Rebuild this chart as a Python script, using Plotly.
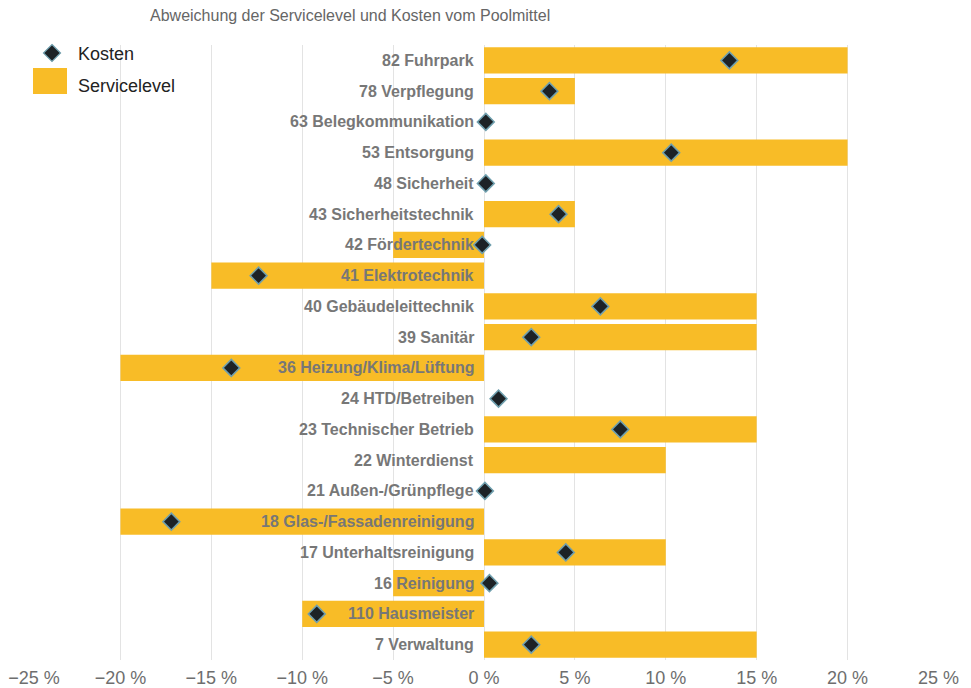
import plotly.graph_objects as go

categories = [
    "82 Fuhrpark", "78 Verpflegung", "63 Belegkommunikation", "53 Entsorgung",
    "48 Sicherheit", "43 Sicherheitstechnik", "42 Fördertechnik", "41 Elektrotechnik",
    "40 Gebäudeleittechnik", "39 Sanitär", "36 Heizung/Klima/Lüftung", "24 HTD/Betreiben",
    "23 Technischer Betrieb", "22 Winterdienst", "21 Außen-/Grünpflege",
    "18 Glas-/Fassadenreinigung", "17 Unterhaltsreinigung", "16 Reinigung",
    "110 Hausmeister", "7 Verwaltung",
]
servicelevel = [20, 5, 0, 20, 0, 5, -5, -15, 15, 15, -20, 0, 15, 10, 0, -20, 10, -5, -10, 15]
kosten = [13.5, 3.6, 0.1, 10.3, 0.1, 4.1, -0.1, -12.4, 6.4, 2.6, -13.9, 0.8, 7.5, None, 0.05,
          -17.2, 4.5, 0.3, -9.2, 2.6]
tick_vals = [-25, -20, -15, -10, -5, 0, 5, 10, 15, 20, 25]
tick_text = ["\u2002\u221225 %", "\u221220 %", "\u221215 %", "\u221210 %", "\u22125 %", "0 %",
             "5 %", "10 %", "15 %", "20 %", "25 %"]

BAR = "#F8BC27"
W, H = 971, 688
PL, PR, PT, PB = 29, 939, 45, 660  # plot area in page pixels
L, T, R, B = PL, PT, W - PR, H - PB
pw, ph = PR - PL, PB - PT


def px_x(p):
    return (p - PL) / pw


def px_y(p):
    return (PB - p) / ph


fig = go.Figure()
fig.add_trace(go.Bar(
    y=categories, x=servicelevel, orientation="h", marker=dict(color=BAR, line=dict(width=0)),
    width=0.85, name="Servicelevel", showlegend=False, hoverinfo="x+y",
))
fig.add_trace(go.Scatter(
    y=categories, x=kosten, mode="markers", name="Kosten", showlegend=False,
    marker=dict(symbol="diamond", size=13, color="#1d2226", line=dict(color="#6f9fae", width=1.5)),
))

for c in categories:
    fig.add_annotation(x=0, y=c, xref="x", yref="y", text="<b>%s</b>" % c, showarrow=False,
                       xanchor="right", xshift=-8, yshift=0,
                       font=dict(family="Liberation Sans, Arial, sans-serif", size=16, color="#777777"))

# custom legend
cx, cy, r = 52, 53, 8.5
fig.add_shape(type="path", xref="paper", yref="paper",
              path="M %f %f L %f %f L %f %f L %f %f Z" % (
                  px_x(cx), px_y(cy - r), px_x(cx + r), px_y(cy), px_x(cx), px_y(cy + r), px_x(cx - r), px_y(cy)),
              fillcolor="#1d2226", line=dict(color="#6f9fae", width=1.2))
fig.add_shape(type="rect", xref="paper", yref="paper",
              x0=px_x(33), x1=px_x(67), y0=px_y(94), y1=px_y(68), fillcolor=BAR, line=dict(width=0))
for txt, yy in [("Kosten", 54), ("Servicelevel", 86)]:
    fig.add_annotation(x=px_x(76), y=px_y(yy), xref="paper", yref="paper", text=txt, showarrow=False,
                       xanchor="left", yanchor="middle",
                       font=dict(family="Liberation Sans, Arial, sans-serif", size=18, color="#222222"))

fig.update_layout(
    width=W, height=H, margin=dict(l=L, r=R, t=T, b=B, autoexpand=False),
    paper_bgcolor="white", plot_bgcolor="white", barmode="overlay",
    showlegend=False,
    title=dict(text="Abweichung der Servicelevel und Kosten vom Poolmittel", automargin=False,
               x=150 / W, xanchor="left", xref="container",
               y=1 - 15 / H, yanchor="middle", yref="container",
               font=dict(family="Liberation Sans, Arial, sans-serif", size=16, color="#666666")),
    xaxis=dict(range=[-25.03, 25.03], tickvals=tick_vals, ticktext=tick_text, showgrid=True, automargin=False,
               gridcolor="#e3e3e3", gridwidth=1, zeroline=False, showline=False, ticks="",
               ticklabeloverflow="allow", ticklabelstandoff=5,
               tickfont=dict(family="Liberation Sans, Arial, sans-serif", size=18, color="#6e6e6e")),
    yaxis=dict(type="category", showticklabels=False, showgrid=False, automargin=False,
               zeroline=False, showline=False, ticks="", autorange=False,
               range=[len(categories) - 0.5, -0.5]),
)

fig.write_html("out.html", config={"displayModeBar": False},
               post_script="document.body.style.margin='0px';")
